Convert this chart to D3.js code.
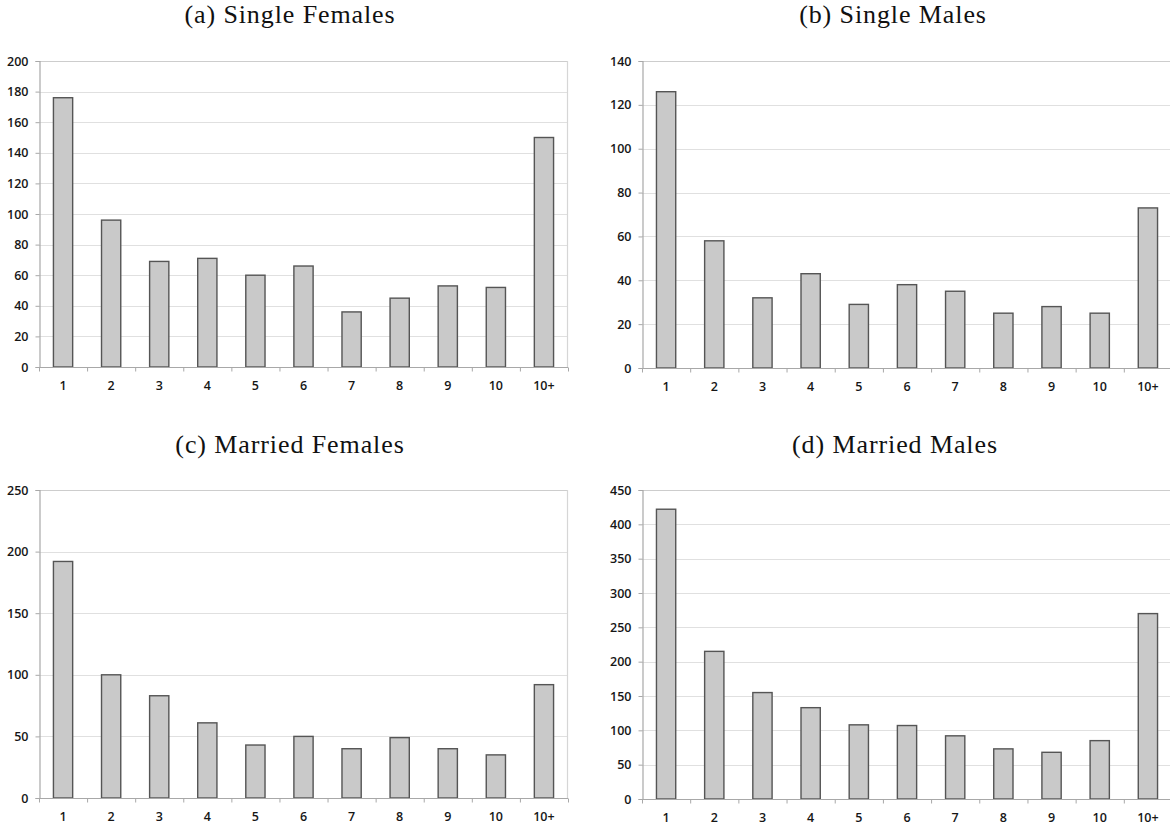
<!DOCTYPE html>
<html>
<head>
<meta charset="utf-8">
<script src="https://cdn.jsdelivr.net/npm/d3@7"></script>
<style>
  html, body { margin: 0; padding: 0; background: #ffffff; }
  svg { display: block; }
  .title { font-family: "Liberation Serif", "Times New Roman", serif; font-size: 26px; fill: #111; letter-spacing: 0.9px; }
  .tick text { font-family: "Open Sans", "DejaVu Sans", sans-serif; font-size: 12.5px; font-weight: 600; fill: #161616; }
</style>
</head>
<body>
<svg id="chart" width="1170" height="827"></svg>
<script>
// Number of partners category labels shared by all four histograms
const categories = ["1", "2", "3", "4", "5", "6", "7", "8", "9", "10", "10+"];

// Counts per category
const singleFemales  = [176, 96, 69, 71, 60, 66, 36, 45, 53, 52, 150];
const singleMales    = [126, 58, 32, 43, 29, 38, 35, 25, 28, 25, 73];
const marriedFemales = [192, 100, 83, 61, 43, 50, 40, 49, 40, 35, 92];
const marriedMales   = [422, 215, 155, 133, 108, 107, 92, 73, 68, 85, 270];

// Panel titles
const titles = ["(a) Single Females", "(b) Single Males", "(c) Married Females", "(d) Married Males"];

// Y-axis tick values per panel
const ticksA = [0, 20, 40, 60, 80, 100, 120, 140, 160, 180, 200];
const ticksB = [0, 20, 40, 60, 80, 100, 120, 140];
const ticksC = [0, 50, 100, 150, 200, 250];
const ticksD = [0, 50, 100, 150, 200, 250, 300, 350, 400, 450];

const panels = [
  { title: titles[0], values: singleFemales,  ticks: ticksA, box: { left: 39,  right: 568,  top: 61,  bottom: 367 }, titleX: 290, titleY: 23 },
  { title: titles[1], values: singleMales,    ticks: ticksB, box: { left: 642, right: 1172, top: 61,  bottom: 368 }, titleX: 893, titleY: 23 },
  { title: titles[2], values: marriedFemales, ticks: ticksC, box: { left: 39,  right: 568,  top: 490, bottom: 798 }, titleX: 290, titleY: 453 },
  { title: titles[3], values: marriedMales,   ticks: ticksD, box: { left: 642, right: 1172, top: 490, bottom: 799 }, titleX: 895, titleY: 453 }
];

const svg = d3.select("#chart");

panels.forEach(p => {
  const g = svg.append("g");
  const b = p.box;
  const maxV = p.ticks[p.ticks.length - 1];

  const x = d3.scaleBand()
    .domain(categories)
    .range([b.left, b.right])
    .paddingInner(0.6)
    .paddingOuter(0.3);
  const step = x.step();

  const y = d3.scaleLinear().domain([0, maxV]).range([b.bottom, b.top]);

  // horizontal gridlines
  g.append("g")
    .selectAll("line")
    .data(p.ticks.filter(t => t > 0))
    .join("line")
    .attr("x1", b.left).attr("x2", b.right)
    .attr("y1", d => Math.round(y(d)) + 0.5).attr("y2", d => Math.round(y(d)) + 0.5)
    .attr("stroke", d => d === maxV ? "#cdcdcd" : "#e0e0e0")
    .attr("stroke-width", 1.2);

  // right border of plot area
  g.append("line")
    .attr("x1", b.right - 0.5).attr("x2", b.right - 0.5)
    .attr("y1", y(maxV)).attr("y2", b.bottom)
    .attr("stroke", "#d6d6d6").attr("stroke-width", 1.2);

  // y axis
  const yAxis = d3.axisLeft(y).tickValues(p.ticks).tickSize(4).tickPadding(7).tickFormat(d3.format("d"));
  const ya = g.append("g")
    .attr("transform", `translate(${b.left + 0.5},0)`)
    .call(yAxis);
  ya.select(".domain").attr("stroke", "#a8a8a8").attr("stroke-width", 1.2);
  ya.selectAll(".tick line").attr("stroke", "#a8a8a8");

  // bars
  g.append("g")
    .selectAll("rect")
    .data(p.values)
    .join("rect")
    .attr("x", (d, i) => x(categories[i]))
    .attr("width", x.bandwidth())
    .attr("y", d => y(d))
    .attr("height", d => y(0) - y(d))
    .attr("fill", "#c9c9c9")
    .attr("stroke", "#555555")
    .attr("stroke-width", 1.4);

  // x axis: ticks sit on category boundaries, labels centered in each cell
  const xa = g.append("g").attr("transform", `translate(0,${b.bottom + 0.5})`);
  xa.append("line")
    .attr("x1", b.left).attr("x2", b.right)
    .attr("stroke", "#a8a8a8").attr("stroke-width", 1.2);
  xa.selectAll("line.tk")
    .data(d3.range(categories.length + 1))
    .join("line")
    .attr("class", "tk")
    .attr("x1", i => b.left + i * step + 0.5).attr("x2", i => b.left + i * step + 0.5)
    .attr("y1", 0).attr("y2", 4)
    .attr("stroke", "#a8a8a8");
  xa.selectAll("g.tick")
    .data(categories)
    .join("g")
    .attr("class", "tick")
    .append("text")
    .attr("x", d => x(d) + x.bandwidth() / 2)
    .attr("y", 18)
    .attr("dy", "0.35em")
    .attr("text-anchor", "middle")
    .text(d => d);

  // panel title
  svg.append("text")
    .attr("class", "title")
    .attr("x", p.titleX)
    .attr("y", p.titleY)
    .attr("text-anchor", "middle")
    .text(p.title);
});
</script>
</body>
</html>
